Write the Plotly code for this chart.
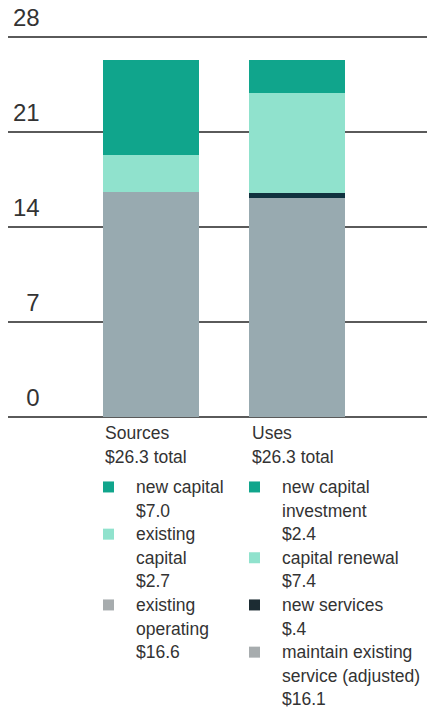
import plotly.graph_objects as go

# ---- data ----
categories = ["Sources", "Uses"]
totals = [26.3, 26.3]

source_labels = ["existing operating", "existing capital", "new capital"]
source_legend = [["existing", "operating"], ["existing", "capital"], ["new capital"]]
source_values = [16.6, 2.7, 7.0]

use_labels = ["maintain existing service (adjusted)", "new services", "capital renewal", "new capital investment"]
use_legend = [["maintain existing", "service (adjusted)"], ["new services"], ["capital renewal"], ["new capital", "investment"]]
use_values = [16.1, 0.4, 7.4, 2.4]

y_ticks = [0, 7, 14, 21, 28]

# ---- styles ----
source_colors = ["#98aab0", "#90e2cd", "#10a58c"]
use_colors = ["#98aab0", "#10323f", "#90e2cd", "#10a58c"]
swatch_source = ["#a7acae", "#90e2cd", "#10a58c"]
swatch_use = ["#a7acae", "#1c2c33", "#90e2cd", "#10a58c"]
FONT = "Liberation Sans, Arial, sans-serif"
TXT = "#333333"

W, H = 427, 714
ML, MR, MT = 8, 0, 0
Y0PX = 417
PX_PER_UNIT = (Y0PX - 37) / 28.0
Y_LOW = -0.15
BOT_PX = Y0PX - Y_LOW * PX_PER_UNIT
MB = H - BOT_PX
yr_max = (Y0PX - MT) / PX_PER_UNIT
BAR_PX = 96
CENTER_PX = [151, 297]
UNIT_X = CENTER_PX[1] - CENTER_PX[0]
x_min = -(CENTER_PX[0] - ML) / UNIT_X
x_max = (W - MR - CENTER_PX[0]) / UNIT_X
PW = W - ML - MR
PH = BOT_PX - MT


def px_x(px):
    return (px - ML) / PW


def px_y(py):
    return (BOT_PX - py) / PH


fig = go.Figure()
for lab, val, col in zip(source_labels, source_values, source_colors):
    fig.add_bar(x=[0], y=[val], name=lab, marker=dict(color=col, line=dict(width=0)),
                width=BAR_PX / UNIT_X, showlegend=False)
for lab, val, col in zip(use_labels, use_values, use_colors):
    fig.add_bar(x=[1], y=[val], name=lab, marker=dict(color=col, line=dict(width=0)),
                width=BAR_PX / UNIT_X, showlegend=False)


def fmt(v):
    s = f"${v:.1f}"
    return s.replace("$0.", "$.")


annotations = []
shapes = []
FS = 17.5
LINE = 23.6


def add_text(px, py, text):
    annotations.append(dict(x=px_x(px), y=px_y(py), xref="paper", yref="paper",
                            text=text, showarrow=False, xanchor="left", yanchor="middle",
                            font=dict(family=FONT, size=FS, color=TXT)))


header_x = [103, 250]
swatch_x = [103, 249]
text_x = [134, 280]
for i, cat in enumerate(categories):
    add_text(header_x[i], 433, cat)
    add_text(header_x[i], 457, f"${totals[i]:.1f} total")

groups = [
    (list(reversed(source_legend)), list(reversed(source_values)), list(reversed(swatch_source))),
    (list(reversed(use_legend)), list(reversed(use_values)), list(reversed(swatch_use))),
]
for gi, (legs, vals, cols) in enumerate(groups):
    line_idx = 0
    for lines, v, c in zip(legs, vals, cols):
        py0 = 487 + LINE * line_idx
        shapes.append(dict(type="rect", xref="paper", yref="paper",
                           x0=px_x(swatch_x[gi]), x1=px_x(swatch_x[gi] + 11),
                           y0=px_y(py0 - 5.5), y1=px_y(py0 + 5.5),
                           fillcolor=c, line=dict(width=0)))
        for ln in lines + [fmt(v)]:
            add_text(text_x[gi], 487 + LINE * line_idx, ln)
            line_idx += 1

tick_text = [f"{t:>2}".replace(" ", "\u2007") for t in y_ticks]

fig.update_layout(
    width=W, height=H,
    margin=dict(l=ML, r=MR, t=MT, b=MB, pad=0),
    barmode="stack",
    paper_bgcolor="white", plot_bgcolor="white",
    showlegend=False,
    annotations=annotations,
    shapes=shapes,
    xaxis=dict(range=[x_min, x_max], showticklabels=False, showgrid=False,
               zeroline=False, showline=False, ticks="", fixedrange=True),
    yaxis=dict(range=[Y_LOW, yr_max], tickvals=y_ticks, ticktext=tick_text,
               ticklabelposition="inside top", ticks="",
               ticklabelstandoff=2, ticklabelshift=-3,
               tickfont=dict(family=FONT, size=24, color=TXT),
               showgrid=True, gridcolor="#5a5a5a", gridwidth=1.5,
               zeroline=True, zerolinecolor="#5a5a5a", zerolinewidth=1.5,
               showline=False, layer="below traces"),
)

fig.write_html("out.html")
